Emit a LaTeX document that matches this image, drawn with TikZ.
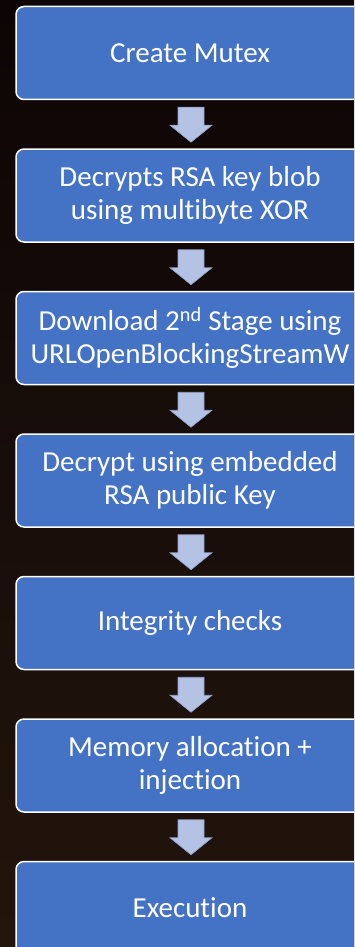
\documentclass[tikz,border=0pt]{standalone}
\usepackage{fontspec}
\setmainfont[Ligatures=NoCommon]{Carlito}
\usetikzlibrary{calc}
\usetikzlibrary{positioning}

\definecolor{boxblue}{HTML}{4472C4}
\definecolor{arrowfill}{HTML}{B4C2E4}
\definecolor{arrowline}{HTML}{8FA1CB}
\definecolor{bgtop}{HTML}{0D0505}
\definecolor{bgbottom}{HTML}{22150D}

\tikzset{
  stepbox/.style={rectangle, rounded corners=8pt, fill=boxblue, draw=white,
    line width=1.5pt, minimum width=348pt, minimum height=93pt, text=white,
    align=center, font=\fontsize{29}{33}\selectfont},
  downarrow/.style={fill=arrowfill, draw=arrowline, line width=0.6pt}
}

\begin{document}
\begin{tikzpicture}[x=1pt,y=1pt,node distance=48pt]

\clip (0,0) rectangle (354,-947);
\shade[top color=bgtop, bottom color=bgbottom] (0,0) rectangle (354,-947);

\node[stepbox] (mutex) at (190,-53) {Create Mutex};
\node[stepbox, below=of mutex] (rsakey) {Decrypts RSA key blob\\using multibyte XOR};
\node[stepbox, below=of rsakey] (download) {Download 2\textsuperscript{nd} Stage using\\URLOpenBlockingStreamW};
\node[stepbox, below=of download] (decrypt) {Decrypt using embedded\\RSA public Key};
\node[stepbox, below=of decrypt] (integrity) {Integrity checks};
\node[stepbox, below=of integrity] (memory) {Memory allocation +\\injection};
\node[stepbox, below=of memory] (execution) {Execution};

% block arrows between the steps
\foreach \a/\b in {mutex/rsakey, rsakey/download, download/decrypt,
    decrypt/integrity, integrity/memory, memory/execution} {
  \coordinate (top) at ($(\a.south)+(1,-7)$);
  \coordinate (tip) at ($(\b.north)+(1,6)$);
  \draw[downarrow] ($(top)+(-13,0)$) -- ($(top)+(13,0)$) -- ($(tip)+(13,17)$)
    -- ($(tip)+(21,17)$) -- (tip) -- ($(tip)+(-21,17)$) -- ($(tip)+(-13,17)$) -- cycle;
}

\end{tikzpicture}
\end{document}
